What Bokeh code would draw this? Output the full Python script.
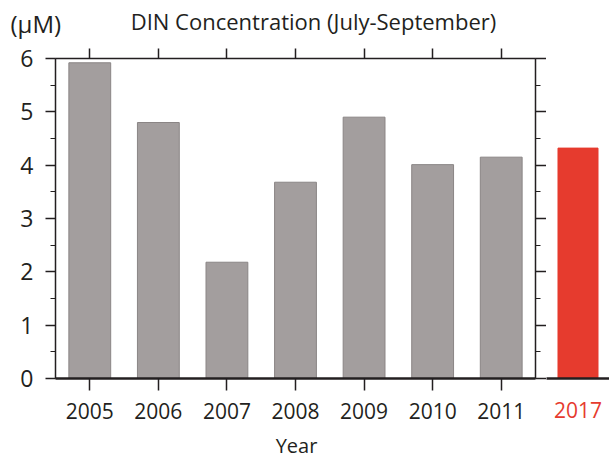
from bokeh.plotting import figure
from bokeh.models import (FactorRange, Range1d, LinearAxis, CategoricalAxis,
                          SingleIntervalTicker, CustomJSTickFormatter)
from bokeh.core.properties import value
from bokeh.layouts import row, column
from bokeh.embed import file_html
from bokeh.resources import INLINE

# ---- data ----
years = ["2005", "2006", "2007", "2008", "2009", "2010", "2011"]
din = [5.92, 4.80, 2.18, 3.68, 4.90, 4.01, 4.15]
recent_year = ["2017"]
recent_din = [4.32]
y_max = 6
title_text = "DIN Concentration (July-September)"
unit_text = "(\u03bcM)"
x_label = "Year"

# ---- style ----
FONT = "Open Sans"
INK = "#231f20"
BAR = "#a39e9e"
BAR_LINE = "#8a8585"
RED = "#e63b2e"
W = 609
HEAD = 40
FOOT = 28
H = 459 - HEAD - FOOT
TOP = 18
BOTTOM = H - TOP - 320
LEFT = 55


def text_strip(height):
    f = figure(width=W, height=height, x_range=Range1d(0, W), y_range=Range1d(0, height),
               min_border=0, title=None, x_axis_location=None, y_axis_location=None,
               output_backend="svg", toolbar_location=None)
    f.outline_line_color = None
    f.xgrid.visible = False
    f.ygrid.visible = False
    return f


# ---- header with the unit and the title ----
head = text_strip(HEAD)
head.text(x=[10], y=[17], text=[unit_text], text_font=value(FONT),
          text_font_size=value("24px"), text_color=INK,
          text_baseline="alphabetic", text_align="left")
head.text(x=[313], y=[20], text=[title_text], text_font=value(FONT),
          text_font_size=value("22px"), text_color=INK,
          text_baseline="alphabetic", text_align="center")

# ---- footer with the axis title ----
foot = text_strip(FOOT)
foot.text(x=[296], y=[14], text=[x_label], text_font=value(FONT),
          text_font_size=value("20px"), text_color=INK,
          text_baseline="alphabetic", text_align="center")

# ---- main panel ----
p = figure(x_range=FactorRange(*years), y_range=Range1d(0, y_max),
           width=546, height=H, min_border_left=LEFT, min_border_right=11,
           min_border_top=TOP, min_border_bottom=BOTTOM,
           output_backend="svg", toolbar_location=None)
p.outline_line_color = None
p.xgrid.visible = False
p.ygrid.visible = False

p.vbar(x=years, top=din, width=0.61, fill_color=BAR, line_color=BAR_LINE, line_width=1)

# bottom axis
xa = p.below[0]
xa.major_tick_out = 12
xa.major_tick_in = 0
xa.axis_line_color = INK
xa.axis_line_width = 2.5
xa.major_tick_line_color = INK
xa.major_tick_line_width = 1.5
xa.major_label_text_font = FONT
xa.major_label_text_font_size = "21px"
xa.major_label_text_color = INK
xa.major_label_standoff = 12

# left axis
ya = p.left[0]
ya.ticker = SingleIntervalTicker(interval=1, num_minor_ticks=2)
ya.major_tick_out = 10
ya.major_tick_in = 0
ya.minor_tick_out = 5
ya.minor_tick_in = 0
ya.axis_line_color = INK
ya.axis_line_width = 1.5
ya.major_tick_line_color = INK
ya.major_tick_line_width = 1.5
ya.minor_tick_line_color = INK
ya.minor_tick_line_width = 1
ya.major_label_text_font = FONT
ya.major_label_text_font_size = "23px"
ya.major_label_text_color = INK
ya.major_label_standoff = 12

# right axis (ticks only)
ra = LinearAxis(ticker=SingleIntervalTicker(interval=1, num_minor_ticks=2),
                formatter=CustomJSTickFormatter(code="return ''"),
                major_tick_out=11, major_tick_in=0, minor_tick_out=5, minor_tick_in=0,
                axis_line_color=INK, axis_line_width=1.5,
                major_tick_line_color=INK, major_tick_line_width=1.5,
                minor_tick_line_color=INK, minor_tick_line_width=1,
                major_label_standoff=0, major_label_text_font_size="0px")
p.add_layout(ra, "right")

# top axis (ticks only)
ta = CategoricalAxis(major_tick_out=10, major_tick_in=0,
                     formatter=CustomJSTickFormatter(code="return ''"),
                     axis_line_color=INK, axis_line_width=1.5,
                     major_tick_line_color=INK, major_tick_line_width=1.5,
                     major_label_standoff=0, major_label_text_font_size="0px")
p.add_layout(ta, "above")

# ---- separate 2017 panel ----
q = figure(x_range=FactorRange(*recent_year), y_range=Range1d(0, y_max),
           width=W - 546, height=H, min_border_left=0, min_border_right=0,
           min_border_top=TOP, min_border_bottom=BOTTOM, y_axis_location=None,
           output_backend="svg", toolbar_location=None)
q.outline_line_color = None
q.xgrid.visible = False
q.ygrid.visible = False
q.vbar(x=recent_year, top=recent_din, width=0.635, fill_color=RED, line_color=RED)
qa = q.below[0]
qa.major_tick_out = 0
qa.major_tick_in = 0
qa.axis_line_color = INK
qa.axis_line_width = 2.5
qa.major_label_text_font = FONT
qa.major_label_text_font_size = "21px"
qa.major_label_text_color = RED
qa.major_label_standoff = 23

layout = column(head, row(p, q), foot)
open("out.html", "w").write(file_html(layout, INLINE))
